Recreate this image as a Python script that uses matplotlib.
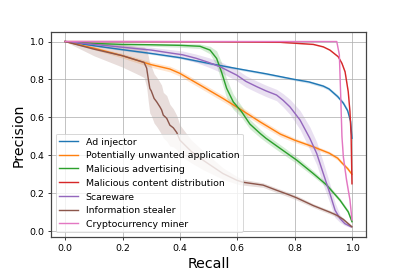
import matplotlib
matplotlib.use('Agg')
import matplotlib.pyplot as plt
import numpy as np

labels = ['Ad injector', 'Potentially unwanted application', 'Malicious advertising',
          'Malicious content distribution', 'Scareware', 'Information stealer',
          'Cryptocurrency miner']

# Ad injector
rec_ad = [0, 0.1, 0.2, 0.3, 0.4, 0.5, 0.6, 0.7, 0.75, 0.8, 0.85, 0.9, 0.92, 0.95, 0.97, 0.985, 0.995, 1.0]
prec_ad = [1.0, 0.978, 0.957, 0.937, 0.915, 0.885, 0.857, 0.83, 0.815, 0.80, 0.787, 0.765, 0.75, 0.71, 0.675, 0.635, 0.58, 0.49]
std_ad = [0, 0.004, 0.005, 0.005, 0.006, 0.006, 0.006, 0.006, 0.006, 0.006, 0.007, 0.008, 0.008, 0.01, 0.01, 0.012, 0.015, 0.02]

# Potentially unwanted application
rec_pua = [0, 0.1, 0.2, 0.3, 0.365, 0.4, 0.48, 0.55, 0.615, 0.68, 0.75, 0.8, 0.865, 0.92, 0.95, 0.965, 0.985, 1.0]
prec_pua = [1.0, 0.965, 0.925, 0.878, 0.855, 0.832, 0.762, 0.70, 0.639, 0.576, 0.512, 0.48, 0.445, 0.412, 0.385, 0.36, 0.33, 0.30]
std_pua = [0, 0.008, 0.012, 0.014, 0.015, 0.015, 0.016, 0.016, 0.016, 0.015, 0.014, 0.012, 0.01, 0.01, 0.01, 0.01, 0.01, 0.01]

# Malicious advertising
rec_adv = [0, 0.1, 0.2, 0.3, 0.4, 0.47, 0.505, 0.528, 0.545, 0.563, 0.586, 0.615, 0.644, 0.68, 0.70, 0.75, 0.807, 0.865, 0.912, 0.958, 0.987, 1.0]
prec_adv = [1.0, 0.99, 0.985, 0.983, 0.98, 0.975, 0.955, 0.911, 0.84, 0.753, 0.682, 0.63, 0.565, 0.515, 0.49, 0.436, 0.375, 0.304, 0.243, 0.164, 0.102, 0.05]
std_adv = [0, 0.004, 0.006, 0.008, 0.01, 0.012, 0.02, 0.04, 0.05, 0.05, 0.04, 0.03, 0.025, 0.022, 0.02, 0.02, 0.018, 0.015, 0.012, 0.01, 0.01, 0.01]

# Malicious content distribution
rec_mcd = [0, 0.5, 0.75, 0.865, 0.9, 0.923, 0.952, 0.965, 0.976, 0.987, 0.993, 0.997, 1.0]
prec_mcd = [1.0, 0.999, 0.996, 0.985, 0.972, 0.955, 0.92, 0.885, 0.84, 0.735, 0.63, 0.507, 0.25]
std_mcd = [0, 0.001, 0.002, 0.003, 0.003, 0.004, 0.005, 0.006, 0.008, 0.01, 0.01, 0.01, 0.01]

# Scareware
rec_sc = [0, 0.1, 0.2, 0.3, 0.365, 0.41, 0.458, 0.5, 0.54, 0.598, 0.63, 0.668, 0.70, 0.737, 0.76, 0.784, 0.819, 0.853, 0.877, 0.9, 0.923, 0.941, 0.958, 0.975, 0.997]
prec_sc = [1.0, 0.985, 0.97, 0.955, 0.94, 0.93, 0.911, 0.89, 0.867, 0.823, 0.79, 0.762, 0.74, 0.718, 0.69, 0.655, 0.586, 0.49, 0.41, 0.304, 0.199, 0.111, 0.067, 0.04, 0.023]
std_sc = [0, 0.008, 0.012, 0.015, 0.018, 0.02, 0.022, 0.025, 0.028, 0.03, 0.03, 0.03, 0.03, 0.03, 0.035, 0.04, 0.05, 0.06, 0.06, 0.06, 0.05, 0.04, 0.02, 0.01, 0.005]

# Information stealer
rec_is = [0, 0.1, 0.2, 0.26, 0.275, 0.284, 0.29, 0.295, 0.30, 0.31, 0.319, 0.33, 0.336, 0.342, 0.354, 0.365, 0.377, 0.389, 0.40, 0.44, 0.48, 0.55, 0.598, 0.62, 0.69, 0.737, 0.784, 0.807, 0.865, 0.923, 0.947, 0.97, 1.0]
prec_is = [1.0, 0.96, 0.925, 0.897, 0.89, 0.86, 0.80, 0.753, 0.74, 0.70, 0.682, 0.656, 0.64, 0.612, 0.595, 0.559, 0.545, 0.52, 0.48, 0.42, 0.375, 0.304, 0.269, 0.258, 0.243, 0.216, 0.19, 0.176, 0.135, 0.10, 0.084, 0.062, 0.023]
std_is = [0, 0.035, 0.06, 0.075, 0.08, 0.1, 0.12, 0.13, 0.13, 0.13, 0.13, 0.13, 0.13, 0.12, 0.12, 0.11, 0.1, 0.09, 0.08, 0.06, 0.05, 0.03, 0.02, 0.015, 0.012, 0.012, 0.012, 0.012, 0.01, 0.01, 0.01, 0.008, 0.005]

# Cryptocurrency miner
rec_cm = [0, 0.5, 0.947, 0.956, 0.961, 0.965, 0.97, 0.981, 0.993, 1.0]
prec_cm = [1.0, 1.0, 1.0, 0.93, 0.70, 0.50, 0.39, 0.27, 0.164, 0.06]
std_cm = [0, 0.001, 0.002, 0.01, 0.02, 0.02, 0.02, 0.015, 0.01, 0.01]

recalls = [rec_ad, rec_pua, rec_adv, rec_mcd, rec_sc, rec_is, rec_cm]
precisions = [prec_ad, prec_pua, prec_adv, prec_mcd, prec_sc, prec_is, prec_cm]
stds = [std_ad, std_pua, std_adv, std_mcd, std_sc, std_is, std_cm]

fig = plt.figure(figsize=(6, 4), dpi=407 / 6)
ax = fig.add_subplot(111)
fig.subplots_adjust(left=0.125, right=0.9, top=0.88, bottom=0.125)

for i in range(len(labels)):
    r = np.array(recalls[i])
    p = np.array(precisions[i])
    s = np.array(stds[i])
    color = 'C%d' % i
    ax.plot(r, p, color=color, lw=1.5, label=labels[i])
    ax.fill_between(r, p - s, np.minimum(p + s, 1.0), color=color, alpha=0.2, lw=0)

ax.grid(True)
for sp in ax.spines.values():
    sp.set_color('#444444')
    sp.set_linewidth(1.3)
ax.set_xlabel('Recall', fontsize=15)
ax.set_ylabel('Precision', fontsize=15)
ax.tick_params(labelsize=10)
ax.legend(loc='lower left', fontsize=10)

plt.savefig('out.png', dpi=407 / 6)
